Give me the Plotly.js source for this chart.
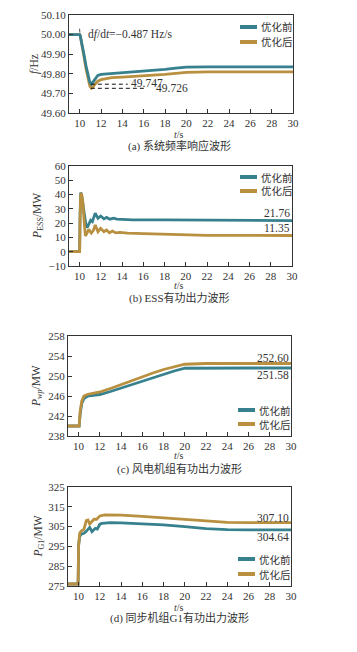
<!DOCTYPE html>
<html><head><meta charset="utf-8">
<script src="https://cdn.plot.ly/plotly-3.0.1.min.js"></script>
<style>html,body{margin:0;padding:0;background:#fff;}#chart{width:357px;height:652px;}</style>
</head><body><div id="chart"></div>
<script>
// ---- data ----
// (a) system frequency
const tFreqBefore = [9, 10, 10.05, 10.2, 10.4, 10.6, 10.8, 10.95, 11.1, 11.25, 11.45, 11.7, 12.0, 12.5, 13, 14, 15, 16, 17, 18, 19, 20, 22, 25, 30];
const freqBefore  = [50.00, 50.00, 49.995, 49.96, 49.90, 49.84, 49.785, 49.757, 49.747, 49.757, 49.775, 49.792, 49.797, 49.799, 49.801, 49.805, 49.809, 49.813, 49.818, 49.823, 49.829, 49.834, 49.835, 49.835, 49.835];
const tFreqAfter  = [9, 10, 10.05, 10.2, 10.4, 10.6, 10.8, 10.95, 11.1, 11.25, 11.45, 11.7, 12.0, 12.5, 13, 14, 15, 16, 17, 18, 19, 20, 22, 25, 30];
const freqAfter   = [50.00, 50.00, 49.995, 49.955, 49.89, 49.825, 49.77, 49.738, 49.726, 49.732, 49.748, 49.762, 49.77, 49.776, 49.78, 49.783, 49.786, 49.788, 49.792, 49.797, 49.802, 49.807, 49.81, 49.81, 49.81];
const freqMinBefore = 49.747, freqMinAfter = 49.726;
const freqEndBefore = "49.817", freqEndAfter = "49.802";
const dfdtText = "d<i>f</i>/d<i>t</i>=\u22120.487 Hz/s";

// (b) ESS active power
const tEssBefore = [9, 10, 10.04, 10.1, 10.18, 10.3, 10.45, 10.6, 10.72, 10.88, 11.04, 11.2, 11.47, 11.73, 11.98, 12.29, 12.54, 12.86, 13.2, 13.5, 14, 15, 18, 22, 26, 30];
const essBefore  = [0, 0, 25, 41.5, 40, 33, 24, 18.5, 17, 20, 22, 21, 27, 23.4, 25, 23, 24, 22.8, 23.5, 22.8, 22.5, 22.3, 22.3, 22.3, 22.0, 21.8];
const tEssAfter  = [9, 10, 10.04, 10.1, 10.18, 10.3, 10.42, 10.54, 10.7, 10.85, 11.1, 11.3, 11.47, 11.73, 11.98, 12.29, 12.54, 12.8, 13.1, 13.4, 13.8, 14.5, 16, 18, 20, 22, 26, 30];
const essAfter   = [0, 0, 22, 40, 41, 35, 22, 11, 13, 15.7, 13, 15, 18.7, 14, 16.4, 14, 15.2, 13.3, 14.5, 13.2, 13.6, 13, 12.6, 12.2, 11.7, 11.5, 11.4, 11.35];
const essEndBefore = "21.76", essEndAfter = "11.35";

// (c) wind farm active power
const tWind = [9, 10.05, 10.15, 10.3, 10.5, 10.8, 11.2, 12, 13, 14, 15, 16, 17, 18, 19, 20, 22, 26, 30];
const windBefore = [240, 240, 242.5, 244.5, 245.5, 245.9, 246.1, 246.3, 246.9, 247.6, 248.3, 249.0, 249.7, 250.4, 251.0, 251.55, 251.6, 251.6, 251.6];
const windAfter  = [240, 240, 243.0, 245.0, 246.0, 246.3, 246.5, 246.8, 247.5, 248.3, 249.0, 249.8, 250.6, 251.3, 251.9, 252.35, 252.5, 252.5, 252.5];
const windEndBefore = "251.58", windEndAfter = "252.60";

// (d) synchronous generator G1 active power
const tG1Before = [9, 9.95, 10.0, 10.1, 10.25, 10.5, 10.7, 11.04, 11.26, 11.57, 11.76, 12.0, 12.2, 13, 14, 16, 18, 20, 22, 24, 26, 30];
const g1Before  = [276, 276, 295.5, 300, 301.2, 301.6, 302.5, 304.6, 302.4, 304.1, 303.8, 306.2, 306.6, 307, 306.9, 306.5, 305.9, 305, 304, 303.5, 303.3, 303.3];
const tG1After  = [9, 9.95, 10.0, 10.1, 10.25, 10.5, 10.72, 10.88, 11.04, 11.26, 11.45, 11.7, 12.0, 12.45, 13, 14, 16, 18, 20, 22, 24, 26, 30];
const g1After   = [276, 276, 295.7, 301.6, 302.8, 303.6, 308, 308.3, 306.3, 307.5, 308.7, 308.7, 310.4, 310.9, 310.9, 310.8, 310.2, 309.5, 308.7, 307.8, 307.1, 307, 307];
const g1EndBefore = "304.64", g1EndAfter = "307.10";

const seriesNames = ["优化前", "优化后"];
const xTickVals = [10, 12, 14, 16, 18, 20, 22, 24, 26, 28, 30];
const captions = ["(a) 系统频率响应波形", "(b) ESS有功出力波形", "(c) 风电机组有功出力波形", "(d) 同步机组G1有功出力波形"];
const yTitles = ["<i>f</i>/Hz", "<i>P</i><sub>ESS</sub>/MW", "<i>P</i><sub><i>wp</i></sub>/MW", "<i>P</i><sub>G1</sub>/MW"];
const xTitle = "<i>t</i>/s";

// ---- styling / layout ----
const W = 357, H = 652;
const C1 = '#37818f', C2 = '#b8903f';
const FONT = 'Liberation Serif, "Noto Sans CJK SC", serif';
const TXT = '#333';
const px = x => x / W, py = y => 1 - y / H;

const boxes = [
  {l: 69, r: 293, t: 15, b: 113},
  {l: 69, r: 292, t: 166, b: 266},
  {l: 68, r: 291, t: 336, b: 436},
  {l: 68, r: 291, t: 487, b: 586}
];

function ln(x, y, color, ax, w) {
  return {x: x, y: y, type: 'scatter', mode: 'lines', line: {color: color, width: w || 2.8},
    xaxis: 'x' + (ax === 1 ? '' : ax), yaxis: 'y' + (ax === 1 ? '' : ax), showlegend: false, hoverinfo: 'skip'};
}

const traces = [
  ln(tFreqAfter, freqAfter, C2, 1),
  ln(tFreqBefore, freqBefore, C1, 1),
  Object.assign(ln([11.05, 14.5], [freqMinBefore, freqMinBefore], '#111', 1, 1), {line: {color: '#111', width: 1, dash: '4px,3px'}}),
  Object.assign(ln([11.05, 16.3], [freqMinAfter, freqMinAfter], '#111', 1, 1), {line: {color: '#111', width: 1, dash: '4px,3px'}}),
  ln([9.99, 10.02], [50.03, 50.01], '#555', 1, 1),
  ln(tEssBefore, essBefore, C1, 2),
  ln(tEssAfter, essAfter, C2, 2),
  ln(tWind, windBefore, C1, 3),
  ln(tWind, windAfter, C2, 3),
  ln(tG1Before, g1Before, C1, 4),
  ln(tG1After, g1After, C2, 4)
];

const yRanges = [[49.6, 50.1], [-10, 60], [238, 258], [275, 325]];
const yDt = [0.1, 10, 4, 10];
const yT0 = [49.6, -10, 238, 275];
const yFmt = ['.2f', '', '', ''];

const layout = {
  width: W, height: H, margin: {l: 0, r: 0, t: 0, b: 0},
  paper_bgcolor: '#fff', plot_bgcolor: '#fff', showlegend: false,
  font: {family: FONT, size: 11, color: TXT},
  annotations: [], shapes: []
};

boxes.forEach((bx, i) => {
  const k = i === 0 ? '' : (i + 1);
  layout['xaxis' + k] = {
    domain: [px(bx.l), px(bx.r)], anchor: 'y' + k, range: [9, 30],
    tickmode: 'array', tickvals: xTickVals, ticks: 'inside', ticklen: 4, tickcolor: '#333',
    showline: true, mirror: true, linecolor: '#333', linewidth: 1,
    showgrid: false, zeroline: false, tickfont: {family: FONT, size: 11, color: TXT}
  };
  layout['yaxis' + k] = {
    domain: [py(bx.b), py(bx.t)], anchor: 'x' + k, range: yRanges[i],
    tick0: yT0[i], dtick: yDt[i], tickformat: yFmt[i], ticks: 'inside', ticklen: 4, tickcolor: '#333',
    showline: true, mirror: true, linecolor: '#333', linewidth: 1,
    showgrid: false, zeroline: false, tickfont: {family: FONT, size: 11, color: TXT}
  };
});

// captions, axis titles
const capY = [146, 298, 469, 618];
const xtY = [134, 285, 455, 607];
const ytX = [35, 38, 37, 38];
capY.forEach((y, i) => {
  const bx = boxes[i];
  layout.annotations.push({xref: 'paper', yref: 'paper', x: px(179), y: py(y), text: captions[i],
    showarrow: false, xanchor: 'center', yanchor: 'middle', font: {family: FONT, size: 11, color: TXT}});
  layout.annotations.push({xref: 'paper', yref: 'paper', x: px(179), y: py(xtY[i]), text: xTitle,
    showarrow: false, xanchor: 'center', yanchor: 'middle', borderpad: 0, font: {family: FONT, size: 10, color: TXT}});
  layout.annotations.push({xref: 'paper', yref: 'paper', x: px(ytX[i]), y: py((bx.t + bx.b) / 2), text: yTitles[i],
    textangle: -90, showarrow: false, xanchor: 'center', yanchor: 'middle', font: {family: FONT, size: 11.5, color: TXT}});
});

// legends (drawn as shapes + text)
const legPos = [
  {x0: 240, x1: 257, tx: 260, y1: 27, y2: 42},
  {x0: 240, x1: 257, tx: 260, y1: 177, y2: 191},
  {x0: 238, x1: 255, tx: 258, y1: 410, y2: 424},
  {x0: 238, x1: 255, tx: 258, y1: 559, y2: 574}
];
legPos.forEach(lp => {
  [[lp.y1, C1, seriesNames[0]], [lp.y2, C2, seriesNames[1]]].forEach(([y, c, name]) => {
    layout.shapes.push({type: 'line', xref: 'paper', yref: 'paper', x0: px(lp.x0), x1: px(lp.x1), y0: py(y), y1: py(y),
      line: {color: c, width: 4}});
    layout.annotations.push({xref: 'paper', yref: 'paper', x: px(lp.tx), y: py(y), text: name, showarrow: false,
      xanchor: 'left', yanchor: 'middle', borderpad: 0, font: {family: '"Noto Sans CJK SC", sans-serif', size: 10.5, color: TXT}});
  });
});

// data labels
function lab(ax, x, y, text, anchor) {
  const k = ax === 1 ? '' : ax;
  layout.annotations.push({xref: 'x' + k, yref: 'y' + k, x: x, y: y, text: text, showarrow: false, borderpad: 0,
    xanchor: anchor || 'right', yanchor: 'middle', font: {family: FONT, size: 11.5, color: TXT}});
}
lab(1, 10.7, 49.998, dfdtText, 'left');
lab(1, 14.7, 49.754, String(freqMinBefore), 'left');
lab(1, 17.1, 49.728, String(freqMinAfter), 'left');
lab(1, 30.05, 49.868, freqEndBefore);
lab(1, 30.05, 49.773, freqEndAfter);
lab(2, 29.9, 27.1, essEndBefore);
lab(2, 29.9, 16.6, essEndAfter);
lab(3, 29.9, 253.66, windEndAfter);
lab(3, 29.9, 250.2, windEndBefore);
lab(4, 29.9, 309.5, g1EndAfter);
lab(4, 29.9, 299.9, g1EndBefore);

Plotly.newPlot('chart', traces, layout, {staticPlot: true, displayModeBar: false});
</script></body></html>
